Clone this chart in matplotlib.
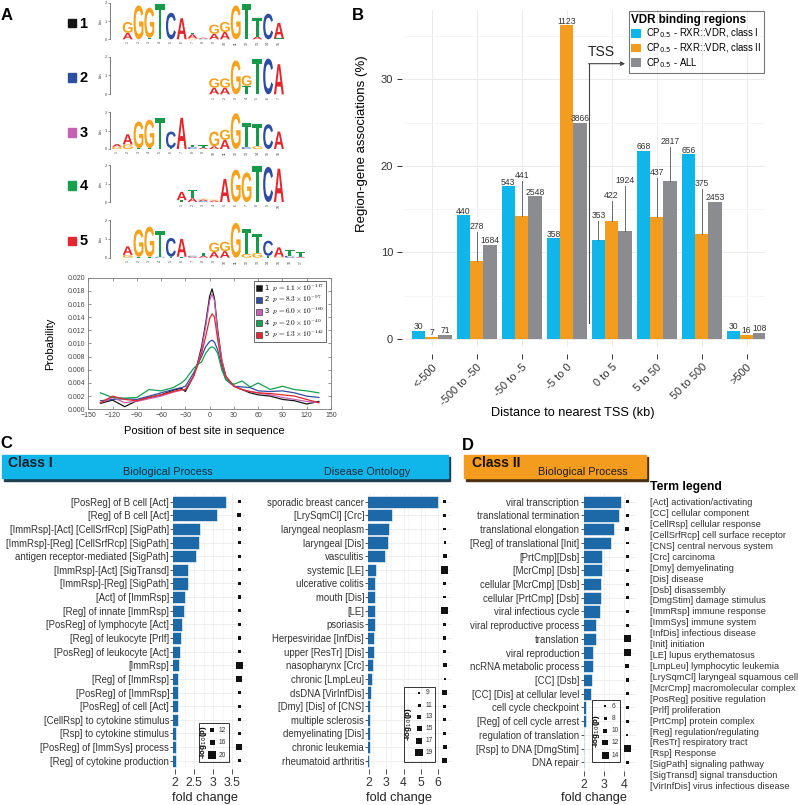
import numpy as np
import matplotlib
matplotlib.use("Agg")
import matplotlib.pyplot as plt
from matplotlib.textpath import TextPath
from matplotlib.patches import PathPatch, Rectangle
from matplotlib.font_manager import FontProperties
from matplotlib.transforms import Affine2D
from matplotlib.lines import Line2D

plt.rcParams['font.family'] = ['Liberation Sans', 'DejaVu Sans']
plt.rcParams['axes.facecolor'] = 'none'

# ------------------------------------------------------------------ DATA
# Panel A: sequence logos, each column = (letter, bits) from bottom to top
logo1 = [[("A", .35), ("G", .6)], [("G", 1.85)], [("T", .08), ("G", 1.65)], [("T", 1.93)],
         [("C", 1.45)], [("A", 1.15)], [("G", .05), ("A", .22), ("T", .1)], [("C", .04), ("A", .05)],
         [("A", .3), ("G", .5)], [("A", .4), ("G", .55)], [("G", 1.85)], [("T", 1.93)],
         [("A", .15), ("T", 1.0)], [("C", 1.4)], [("T", .05), ("A", .85)]]
logo2 = [[("A", .35), ("G", .5)], [("A", .35), ("G", .5)], [("G", 1.8)], [("T", .45), ("G", .55)],
         [("T", 1.9)], [("C", 1.9)], [("A", 1.6)]]
logo3 = [[("G", .12), ("A", .15)], [("G", .25), ("A", .55)], [("T", .05), ("G", 1.45)],
         [("T", .05), ("G", 1.55)], [("T", 1.7)], [("T", .05), ("C", .9)], [("A", 1.7)],
         [("C", .1), ("T", .12)], [("A", .08), ("T", .12)], [("A", .15), ("G", .8)],
         [("A", .5), ("G", .55)], [("G", 1.95)], [("C", .1), ("T", 1.3)], [("G", .15), ("T", 1.2)],
         [("C", 1.35)], [("A", .95)]]
logo4 = [[("T", .1), ("A", .45)], [("A", .2), ("T", .45)], [("C", .05), ("A", .08), ("G", .05)],
         [("A", .08), ("G", .05)], [("A", 1.25)], [("G", 1.75)], [("G", 1.6)], [("T", 1.95)],
         [("C", 1.9)], [("A", 1.8)]]
logo5 = [[("G", .15), ("A", .45)], [("T", .05), ("G", 1.45)], [("T", .05), ("G", 1.6)],
         [("C", .05), ("T", 1.35)], [("T", .05), ("C", 1.0)], [("T", .05), ("A", .95)],
         [("A", .05), ("C", .05)], [("A", .1), ("T", .15)], [("A", .3), ("G", .5)],
         [("A", .35), ("G", .5)], [("G", 1.85)], [("G", .2), ("T", 1.3)], [("G", .25), ("T", 1.0)],
         [("T", .1), ("C", .8)], [("G", .05), ("A", .5)], [("C", .1), ("T", .3)], [("A", .05), ("T", .25)]]
motif_ids = ["1", "2", "3", "4", "5"]

# Panel A: positional distribution of best site
pos_x = [-135, -120, -105, -90, -75, -60, -45, -35, -30, -20, -15, -10, -5, 0, 3, 6, 10, 15, 20,
         30, 40, 50, 60, 75, 90, 105, 120, 135]
prob_1 = [.0009, .0014, .0004, .0013, .0018, .0022, .0029, .0032, .0027, .0050, .0070, .0095, .0130,
          .0172, .0183, .0168, .0120, .0075, .0050, .0035, .0030, .0025, .0022, .0020, .0015, .0013,
          .0008, .0012]
prob_2 = [.0013, .0015, .0016, .0015, .0020, .0025, .0030, .0033, .0035, .0055, .0068, .0080, .0095,
          .0103, .0105, .0102, .0090, .0065, .0045, .0035, .0034, .0033, .0028, .0027, .0028, .0025,
          .0020, .0018]
prob_3 = [.0010, .0018, .0010, .0012, .0016, .0020, .0026, .0029, .0030, .0050, .0068, .0090, .0125,
          .0165, .0175, .0165, .0115, .0075, .0050, .0035, .0030, .0027, .0025, .0022, .0018, .0015,
          .0012, .0010]
prob_4 = [.0025, .0018, .0017, .0018, .0030, .0028, .0033, .0040, .0045, .0062, .0068, .0072, .0085,
          .0093, .0095, .0093, .0085, .0060, .0045, .0038, .0043, .0034, .0040, .0030, .0035, .0030,
          .0028, .0025]
prob_5 = [.0010, .0020, .0015, .0013, .0018, .0022, .0027, .0030, .0030, .0050, .0066, .0085, .0110,
          .0138, .0145, .0140, .0105, .0070, .0050, .0035, .0030, .0027, .0025, .0024, .0022, .0020,
          .0015, .0010]
p_mant = ["1.1", "8.3", "6.0", "2.0", "1.3"]
p_exp = ["-117", "-97", "-160", "-40", "-142"]

# Panel B: region-gene associations
b_categories = ["<-500", "-500 to -50", "-50 to -5", "-5 to 0", "0 to 5", "5 to 50", "50 to 500", ">500"]
b_n_class1 = [30, 440, 543, 358, 353, 668, 656, 30]
b_n_class2 = [7, 278, 441, 1123, 422, 437, 375, 16]
b_n_all = [71, 1684, 2548, 3866, 1924, 2817, 2453, 108]
b_series_names = [r"CP$_{0.5}$ - RXR::VDR, class I", r"CP$_{0.5}$ - RXR::VDR, class II", r"CP$_{0.5}$ - ALL"]

# Panel C: Class I enrichment
c_bp_terms = ["[PosReg] of B cell [Act]", "[Reg] of B cell [Act]", "[ImmRsp]-[Act] [CellSrfRcp] [SigPath]",
              "[ImmRsp]-[Reg] [CellSrfRcp] [SigPath]", "antigen receptor-mediated [SigPath]",
              "[ImmRsp]-[Act] [SigTransd]", "[ImmRsp]-[Reg] [SigPath]", "[Act] of [ImmRsp]",
              "[Reg] of innate [ImmRsp]", "[PosReg] of lymphocyte [Act]", "[Reg] of leukocyte [Prlf]",
              "[PosReg] of leukocyte [Act]", "[ImmRsp]", "[Reg] of [ImmRsp]", "[PosReg] of [ImmRsp]",
              "[PosReg] of cell [Act]", "[CellRsp] to cytokine stimulus", "[Rsp] to cytokine stimulus",
              "[PosReg] of [ImmSys] process", "[Reg] of cytokine production"]
c_bp_fc = [3.34, 3.10, 2.65, 2.64, 2.56, 2.34, 2.34, 2.25, 2.24, 2.17, 2.16, 2.13, 2.10, 2.09, 2.08,
           2.08, 2.07, 2.03, 2.02, 2.02]
c_bp_logp = [10, 13, 11.5, 11.5, 10, 12, 12, 12, 10.5, 11.5, 10, 12, 21, 17, 12, 11.5, 10, 12, 17, 11]
c_bp_breaks = [12, 16, 20]

c_do_terms = ["sporadic breast cancer", "[LrySqmCl] [Crc]", "laryngeal neoplasm", "laryngeal [Dis]",
              "vasculitis", "systemic [LE]", "ulcerative colitis", "mouth [Dis]", "[LE]", "psoriasis",
              "Herpesviridae [InfDis]", "upper [ResTr] [Dis]", "nasopharynx [Crc]", "chronic [LmpLeu]",
              "dsDNA [VirInfDis]", "[Dmy] [Dis] of [CNS]", "multiple sclerosis", "demyelinating [Dis]",
              "chronic leukemia", "rheumatoid arthritis"]
c_do_fc = [6.0, 3.35, 3.15, 3.08, 2.92, 2.38, 2.37, 2.35, 2.35, 2.35, 2.29, 2.27, 2.23, 2.19, 2.10,
           2.08, 2.08, 2.08, 2.04, 2.01]
c_do_logp = [11, 10, 10, 9.5, 13, 19, 10, 10, 20, 10, 11.5, 10, 12.5, 9.5, 15.5, 11, 11, 11, 13.5, 15.5]
c_do_breaks = [9, 11, 13, 15, 17, 19]

# Panel D: Class II enrichment
d_terms = ["viral transcription", "translational termination", "translational elongation",
           "[Reg] of translational [Init]", "[PrtCmp][Dsb]", "[McrCmp] [Dsb]", "cellular [McrCmp] [Dsb]",
           "cellular [PrtCmp] [Dsb]", "viral infectious cycle", "viral reproductive process", "translation",
           "viral reproduction", "ncRNA metabolic process", "[CC] [Dsb]", "[CC] [Dis] at cellular level",
           "cell cycle checkpoint", "[Reg] of cell cycle arrest", "regulation of translation",
           "[Rsp] to DNA [DmgStim]", "DNA repair"]
d_fc = [3.85, 3.75, 3.50, 3.33, 2.91, 2.89, 2.86, 2.86, 2.79, 2.61, 2.57, 2.44, 2.42, 2.37, 2.34,
        2.07, 2.07, 2.01, 2.01, 2.0]
d_logp = [8, 8.5, 10, 6.5, 7.5, 8, 8, 7, 8, 8.5, 14.5, 14, 10, 8.5, 8, 7, 8, 6, 13, 8]
d_breaks = [6, 8, 10, 12, 14]

term_legend = ["[Act] activation/activating", "[CC] cellular component", "[CellRsp] cellular response",
               "[CellSrfRcp] cell surface receptor", "[CNS] central nervous system", "[Crc] carcinoma",
               "[Dmy] demyelinating", "[Dis] disease", "[Dsb] disassembly", "[DmgStim] damage stimulus",
               "[ImmRsp] immune response", "[ImmSys] immune system", "[InfDis] infectious disease",
               "[Init] initiation", "[LE] lupus erythematosus", "[LmpLeu] lymphocytic leukemia",
               "[LrySqmCl] laryngeal squamous cell", "[McrCmp] macromolecular complex",
               "[PosReg] positive regulation", "[Prlf] proliferation", "[PrtCmp] protein complex",
               "[Reg] regulation/regulating", "[ResTr] respiratory tract", "[Rsp] Response",
               "[SigPath] signaling pathway", "[SigTransd] signal transduction",
               "[VirInfDis] virus infectious disease"]

# ------------------------------------------------------------------ STYLE
W, H = 798, 805
MOTIF_COLORS = ["#151515", "#2c4fa3", "#c661b6", "#16a04f", "#e4262e"]
LOGO_COLORS = {"A": "#e3262c", "C": "#2b4ea3", "G": "#f6a21c", "T": "#17994a"}
CYAN, ORANGE, GRAY = "#10b5ea", "#f49c1d", "#8b8c8f"
BAR_BLUE = "#1d68a6"
TXT = "#333333"
GRID = "#ebebeb"

fig = plt.figure(figsize=(W / 100, H / 100), dpi=100)


def px_axes(x0, y0, x1, y1, **kw):
    return fig.add_axes([x0 / W, 1 - y1 / H, (x1 - x0) / W, (y1 - y0) / H], **kw)


bottom = px_axes(0, 0, W, H, zorder=-5)
bottom.set_xlim(0, W); bottom.set_ylim(H, 0); bottom.axis('off')
top = px_axes(0, 0, W, H, zorder=10)
top.set_xlim(0, W); top.set_ylim(H, 0); top.axis('off')

# panel letters
for lab, (x, y) in zip("ABCD", [(7, 15), (358, 15), (6, 443), (468, 445)]):
    top.text(x, y, lab, fontsize=12, fontweight='bold', ha='center', va='center')

# ------------------------------------------------------------------ PANEL A logos
glyph_font = FontProperties(family='Liberation Sans', weight='bold')
_cache = {}


def draw_letter(ax, ch, xc, y0, w, h):
    if ch not in _cache:
        _cache[ch] = TextPath((0, 0), ch, size=1, prop=glyph_font)
    tp = _cache[ch]
    ext = tp.get_extents()
    tr = (Affine2D().translate(-ext.x0, -ext.y0)
          .scale(w / ext.width, h / ext.height).translate(xc - w / 2, y0))
    ax.add_patch(PathPatch(tr.transform_path(tp), facecolor=LOGO_COLORS[ch],
                           edgecolor='none', clip_on=False))


logos = [logo1, logo2, logo3, logo4, logo5]
logo_offsets = [0, 8, -1, 5, 0]
logo_ybox = [(2.7, 39.3), (56.7, 94.3), (112.3, 149.0), (165.0, 202.0), (220.0, 257.7)]
for k, (cols, off, (yt, yb)) in enumerate(zip(logos, logo_offsets, logo_ybox)):
    ax = px_axes(110, yt, 305, yb)
    ax.set_xlim(-0.639, 17.417); ax.set_ylim(0, 2)
    for p, stack in enumerate(cols, start=1):
        c = off + p
        base = 0
        for ch, hgt in stack:
            draw_letter(ax, ch, c, base, 0.92, hgt)
            base += hgt
        ax.text(c, -0.12, str(p), rotation=90, fontsize=2.6, ha='center', va='top', color='#444')
    for s in ['top', 'right', 'bottom']:
        ax.spines[s].set_visible(False)
    ax.spines['left'].set_linewidth(0.5)
    ax.spines['left'].set_color('#444')
    ax.set_xticks([])
    ax.set_yticks([0, 1, 2])
    ax.set_yticklabels(['0', '1', '2'])
    ax.tick_params(axis='y', labelsize=3, length=1.5, width=0.4, pad=0.8, colors='#444')
    ax.set_ylabel('bits', fontsize=2.8, labelpad=1, color='#444')
    yc = (yt + yb) / 2 + 2
    top.add_patch(Rectangle((67.7, yc - 4.2), 8.4, 8.4, color=MOTIF_COLORS[k]))
    top.text(79.5, yc + 0.5, motif_ids[k], fontsize=10.5, fontweight='bold', va='center', ha='left')

# ------------------------------------------------------------------ PANEL A lines
axL = px_axes(88.3, 277.7, 331, 409.3)
for series, col in zip([prob_1, prob_2, prob_3, prob_4, prob_5], MOTIF_COLORS):
    axL.plot(pos_x, series, color=col, lw=0.9)
axL.set_xlim(-150, 150); axL.set_ylim(0, 0.020)
axL.set_xticks(np.arange(-150, 151, 30))
axL.set_yticks(np.arange(0, 0.0201, 0.002))
axL.set_yticklabels([f"{v:.3f}" for v in np.arange(0, 0.0201, 0.002)])
axL.tick_params(direction='in', top=True, right=True, labelsize=5, length=2, width=0.4,
                colors='#444', pad=2)
for s in axL.spines.values():
    s.set_color('#777'); s.set_linewidth(0.6)
top.text(50, 343.5, 'Probability', rotation=90, fontsize=8, ha='center', va='center')
top.text(204, 430.7, 'Position of best site in sequence', fontsize=8, ha='center', va='center')
handles = [Line2D([], [], marker='s', linestyle='none', color=c, markersize=5,
                  markeredgecolor='#222', markeredgewidth=0.4) for c in MOTIF_COLORS]
labels = [f"{i}  " + r"$p\,=" + m + r"\times10^{" + e + "}$" for i, m, e in zip(motif_ids, p_mant, p_exp)]
leg = axL.legend(handles, labels, loc='upper right', bbox_to_anchor=(0.98, 0.978),
                 prop=FontProperties(family='Liberation Sans', size=5.3, math_fontfamily='cm'),
                 frameon=True, fancybox=False, edgecolor='#222', borderpad=0.25,
                 labelspacing=0.05, handlelength=0.8, handletextpad=0.3, borderaxespad=0)
leg.get_frame().set_linewidth(0.6)

# ------------------------------------------------------------------ PANEL B
axB = px_axes(404, 10, 765, 346.7)
for s in axB.spines.values():
    s.set_color('none')
axB.spines['left'].set_position(('outward', 1.7))
axB.spines['bottom'].set_position(('outward', 5.3))
xg = np.arange(len(b_categories))
bw = 0.296
pct = [np.array(n) / np.sum(n) * 100 for n in (b_n_class1, b_n_class2, b_n_all)]
counts = [b_n_class1, b_n_class2, b_n_all]
lifts = [[0, 0, 0, 0, 2.35, 0, 0, 0],
         [0, 3.5, 4.2, 0, 2.45, 4.6, 5.4, 0],
         [0, 0, 0, 0, 5.35, 4.1, 0, 0]]
for k, (vals, ns, lf, col, name) in enumerate(zip(pct, counts, lifts, [CYAN, ORANGE, GRAY], b_series_names)):
    xs = xg + (k - 1) * bw
    axB.bar(xs, vals, width=bw, color=col, zorder=2, label=name)
    for xi, v, n, l in zip(xs, vals, ns, lf):
        base = v + 0.2 + l
        axB.text(xi, base, str(n), ha='center', va='baseline', fontsize=6.2, color=TXT, zorder=4)
        if l > 0:
            axB.plot([xi, xi], [v, base - 0.35], color='#555', lw=0.6, zorder=3)
axB.plot([3.5, 3.5], [1.8, 31.8], color='#444', lw=0.8, zorder=3)
axB.annotate('', xy=(4.3, 31.8), xytext=(3.49, 31.8),
             arrowprops=dict(arrowstyle='-|>', color='#444', lw=0.8, mutation_scale=6,
                             shrinkA=0, shrinkB=0), zorder=3)
axB.text(3.77, 33.1, 'TSS', fontsize=10, ha='center', va='center', color='#222')
axB.set_xlim(-0.615, 7.41); axB.set_ylim(-0.89, 38.0)
axB.set_yticks([0, 10, 20, 30])
axB.set_yticks([5, 15, 25, 35], minor=True)
axB.set_xticks(xg)
axB.set_xticklabels(b_categories)
axB.grid(True, which='major', color=GRID, lw=0.7, zorder=0)
axB.grid(True, which='minor', axis='y', color='#f4f4f4', lw=0.6, zorder=0)
axB.tick_params(axis='y', which='major', labelsize=8, length=3.6, width=0.7, colors=TXT, pad=2.5)
axB.tick_params(axis='y', which='minor', length=0)
axB.tick_params(axis='x', labelsize=8, length=3.6, width=0.7, colors=TXT, pad=2, labelrotation=45)
for lab in axB.get_xticklabels():
    lab.set_ha('right'); lab.set_va('top'); lab.set_rotation_mode('anchor')
top.text(362, 144, 'Region-gene associations (%)', rotation=90, fontsize=9.5, ha='center', va='center')
top.text(573, 413, 'Distance to nearest TSS (kb)', fontsize=9.2, ha='center', va='center')
legB = axB.legend(loc='upper right', bbox_to_anchor=(1.0, 1.0), title='VDR binding regions',
                  fontsize=6.9, title_fontproperties=FontProperties(size=8.4, weight='bold'),
                  frameon=True, fancybox=False, edgecolor='#555', borderpad=0.3,
                  labelspacing=0.1, handlelength=1.0, handleheight=1.0, handletextpad=0.5,
                  borderaxespad=0.1)
legB.get_frame().set_linewidth(0.8)
legB._legend_box.align = 'left'

# ------------------------------------------------------------------ headers
for (x0, x1, col, sh) in [(2, 448, CYAN, '#1d3f4f'), (464, 646, ORANGE, '#4a3010')]:
    bottom.add_patch(Rectangle((x0 + 1.5, 456.5), x1 - x0, 24, color=sh))
    bottom.add_patch(Rectangle((x0, 455), x1 - x0, 23.3, color=col))
top.text(8, 462.7, 'Class I', fontsize=10, fontweight='bold', ha='left', va='center', color='#10202a')
top.text(168, 471.7, 'Biological Process', fontsize=7.8, ha='center', va='center', color='#1a2a3a')
top.text(366.7, 471.7, 'Disease Ontology', fontsize=7.8, ha='center', va='center', color='#1a2a3a')
top.text(472, 462.7, 'Class II', fontsize=10, fontweight='bold', ha='left', va='center', color='#1a1005')
top.text(583, 471.7, 'Biological Process', fontsize=7.8, ha='center', va='center', color='#1a1a1a')


# ------------------------------------------------------------------ enrichment panels
def enrich(box, xlim, xticks, xticklabels, terms, fc, logp, pt_x, breaks, px_sizes, ylim_rows):
    x0, y0, x1, y1 = box
    ax = px_axes(x0, y0, x1, y1)
    rows = np.arange(len(terms))
    ax.barh(rows, fc, height=0.9, color=BAR_BLUE, edgecolor='white', linewidth=0.4, zorder=2)
    sizes = (np.interp(logp, breaks, px_sizes) * 0.72) ** 2
    ax.scatter([pt_x] * len(terms), rows, marker='s', s=sizes, color='#111', zorder=3, linewidths=0)
    ax.set_xlim(*xlim); ax.set_ylim(len(terms) - 1 + ylim_rows, -ylim_rows)
    ax.set_yticks(rows); ax.set_yticklabels(terms, fontsize=6.9, color=TXT)
    ax.set_xticks(xticks); ax.set_xticklabels(xticklabels, fontsize=8.8, color='#222')
    ax.set_xticks(np.arange(2.25, xlim[1], 0.5 if xticks[1] - xticks[0] < 1 else 1.0), minor=True)
    ax.grid(True, which='major', color=GRID, lw=0.6, zorder=0)
    ax.grid(True, which='minor', axis='x', color='#f3f3f3', lw=0.5, zorder=0)
    for s in ax.spines.values():
        s.set_color('none')
    ax.tick_params(axis='y', length=2.2, width=0.6, colors=TXT, pad=0.8)
    ax.tick_params(axis='x', which='major', length=3.6, width=0.6, colors='#333', pad=2.5)
    ax.tick_params(axis='x', which='minor', length=0)
    return ax


enrich((173.3, 493.5, 247, 768.9), (1.955, 3.885), [2, 2.5, 3, 3.5], ['2', '2.5', '3', '3.5'],
       c_bp_terms, c_bp_fc, c_bp_logp, 3.68, c_bp_breaks, [3.3, 5.0, 7.3], 0.6)
enrich((368.3, 493.5, 452, 768.9), (1.96, 6.8), [2, 3, 4, 5, 6], ['2', '3', '4', '5', '6'],
       c_do_terms, c_do_fc, c_do_logp, 6.38, c_do_breaks, [2.0, 3.0, 4.0, 5.0, 6.3, 7.5], 0.6)
enrich((583.5, 493.5, 636, 770.5), (1.96, 4.6), [2, 3, 4], ['2', '3', '4'],
       d_terms, d_fc, d_logp, 4.17, d_breaks, [2.0, 3.0, 4.0, 5.5, 7.0], 0.6)

for x, txt in [(205, 'fold change'), (399, 'fold change'), (594, 'fold change')]:
    top.text(x, 798, txt, fontsize=9.2, ha='center', va='center', color='#222')


def size_legend(box, title_x, breaks, ys, sq_x, num_x, px_sizes):
    x0, y0, x1, y1 = box
    top.add_patch(Rectangle((x0, y0), x1 - x0, y1 - y0, fill=False, ec='#333', lw=0.7))
    top.text(title_x, (y0 + y1) / 2, r'-log$_{10}$(p)', rotation=90, ha='center', va='center',
             fontsize=5.8, fontweight='bold')
    s = (np.array(px_sizes) * 0.72) ** 2
    top.scatter([sq_x] * len(breaks), ys, marker='s', s=s, color='#111', linewidths=0)
    for b, yy in zip(breaks, ys):
        top.text(num_x, yy, str(b), fontsize=4.8, va='center', ha='left', color=TXT)


size_legend((199, 723, 229, 762), 203.5, c_bp_breaks, [730, 742.7, 755], 212, 219,
            [3.3, 5.0, 7.3])
size_legend((404, 686.7, 435, 762.3), 408.5, c_do_breaks, [692.7, 705, 716.7, 728.3, 740.7, 752.7],
            419, 426, [2.0, 3.0, 4.0, 5.0, 6.3, 7.5])
size_legend((592, 700, 620, 762), 596, d_breaks, [706, 718.3, 730.7, 742.7, 755], 605, 612,
            [2.0, 3.0, 4.0, 5.5, 7.0])

# ------------------------------------------------------------------ term legend
top.text(650, 486.7, 'Term legend', fontsize=8.8, fontweight='bold', ha='left', va='center')
for i, t in enumerate(term_legend):
    top.text(650, 502.7 + i * 10.92, t, fontsize=6.7, ha='left', va='center', color=TXT)

fig.savefig('out.png', dpi=100)
